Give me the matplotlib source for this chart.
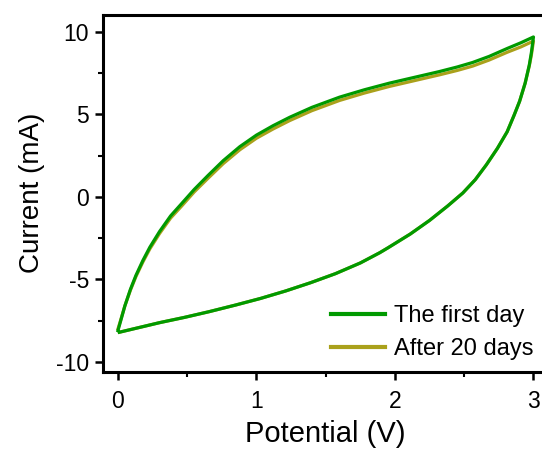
import matplotlib
matplotlib.use("Agg")
import matplotlib.pyplot as plt
from matplotlib.ticker import MultipleLocator

plt.rcParams['font.family'] = ['Liberation Sans', 'DejaVu Sans']
plt.rcParams['axes.unicode_minus'] = False

# Anodic (upper) branch: potentials (V) and currents (mA)
up_v = [0.0, 0.02, 0.05, 0.09, 0.13, 0.18, 0.23, 0.30, 0.38, 0.46, 0.55, 0.65, 0.76,
        0.88, 1.00, 1.12, 1.24, 1.40, 1.60, 1.78, 1.96, 2.14, 2.32, 2.45, 2.56, 2.68,
        2.81, 2.91, 3.00]
up_day1 = [-8.1, -7.5, -6.6, -5.6, -4.75, -3.85, -3.05, -2.1, -1.15, -0.4, 0.45, 1.3, 2.2,
           3.05, 3.75, 4.32, 4.83, 5.43, 6.05, 6.5, 6.9, 7.25, 7.6, 7.88, 8.15, 8.52,
           9.0, 9.35, 9.7]
up_day20 = [-8.0, -7.45, -6.6, -5.65, -4.82, -3.94, -3.15, -2.22, -1.28, -0.55, 0.3, 1.13, 2.02,
            2.86, 3.56, 4.12, 4.63, 5.23, 5.85, 6.3, 6.7, 7.05, 7.4, 7.67, 7.93, 8.3,
            8.77, 9.1, 9.45]

# Cathodic (lower) branch
lo_v = [3.00, 2.985, 2.97, 2.94, 2.90, 2.86, 2.81, 2.74, 2.66, 2.58, 2.49, 2.38, 2.25,
        2.11, 1.95, 1.89, 1.75, 1.57, 1.39, 1.21, 1.03, 0.85, 0.66, 0.48, 0.30, 0.15, 0.01]
lo_day1 = [9.7, 8.75, 8.0, 6.9, 5.8, 4.95, 3.95, 2.95, 1.95, 1.05, 0.24, -0.55, -1.42,
           -2.25, -3.08, -3.38, -4.0, -4.65, -5.2, -5.7, -6.15, -6.55, -6.95, -7.3, -7.62, -7.92, -8.2]
lo_day20 = [9.45, 8.6, 7.95, 6.9, 5.8, 4.95, 3.95, 2.95, 1.95, 1.05, 0.24, -0.55, -1.42,
            -2.25, -3.08, -3.38, -4.0, -4.65, -5.2, -5.7, -6.15, -6.55, -6.95, -7.3, -7.62, -7.92, -8.2]

labels = ["The first day", "After 20 days"]
colors = ["#009A00", "#AAA11B"]

fig = plt.figure(figsize=(5.42, 4.5), dpi=100)
ax = fig.add_axes([103/542, 1 - 371.5/450, (548 - 103)/542, (371.5 - 15)/450])

l20, = ax.plot(up_v + lo_v, up_day20 + lo_day20, color=colors[1], lw=2.3,
               label=labels[1], zorder=2, solid_joinstyle='round')
l1, = ax.plot(up_v + lo_v, up_day1 + lo_day1, color=colors[0], lw=2.3,
              label=labels[0], zorder=3, solid_joinstyle='round')

ax.set_xlim(-0.108, 3.105)
ax.set_ylim(-10.58, 11.03)
ax.xaxis.set_major_locator(MultipleLocator(1))
ax.xaxis.set_minor_locator(MultipleLocator(0.5))
ax.yaxis.set_major_locator(MultipleLocator(5))
ax.yaxis.set_minor_locator(MultipleLocator(2.5))
ax.tick_params(which='major', direction='out', length=6, width=1.8, labelsize=16.5)
ax.tick_params(axis='x', which='major', pad=7)
ax.tick_params(axis='y', which='major', pad=4)
ax.tick_params(which='minor', direction='out', length=3.5, width=1.5)
ax.tick_params(top=False, right=False)
for s in ax.spines.values():
    s.set_linewidth(2.2)

ax.set_xlabel("Potential (V)", fontsize=21, labelpad=5)
ax.set_ylabel("Current (mA)", fontsize=20, labelpad=8)

leg = ax.legend([l1, l20], labels, loc='lower right',
                bbox_to_anchor=(533/542, (450 - 360)/450), bbox_transform=fig.transFigure,
                frameon=False, fontsize=17, borderpad=0, borderaxespad=0,
                handlelength=2.3, handletextpad=0.35, labelspacing=0.45)
for line in leg.get_lines():
    line.set_linewidth(3)

fig.savefig("out.png", dpi=100)
